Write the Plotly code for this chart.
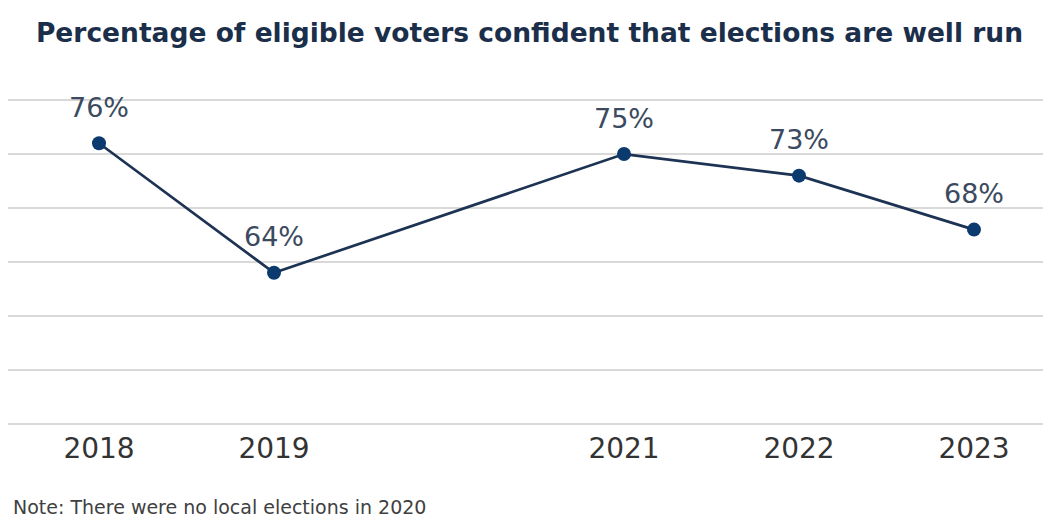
import plotly.graph_objects as go

years = [2018, 2019, 2021, 2022, 2023]
values = [76, 64, 75, 73, 68]
labels = ["76%", "64%", "75%", "73%", "68%"]
tick_vals = [2018, 2019, 2021, 2022, 2023]
tick_text = ["2018", "2019", "2021", "2022", "2023"]

title = "Percentage of eligible voters confident that elections are well run"
note = "Note: There were no local elections in 2020"

FONT = "DejaVu Sans, Arial"

fig = go.Figure()
fig.add_trace(go.Scatter(
    x=years, y=values, mode="lines+markers",
    line=dict(color="#1d3353", width=2.7),
    marker=dict(color="#0b3a6e", size=14),
    cliponaxis=False, hoverinfo="skip",
))

for x, y, t in zip(years, values, labels):
    fig.add_annotation(x=x, y=y, text=t, showarrow=False, yshift=36,
                       font=dict(family=FONT, size=27, color="#3b4a5e"))

fig.add_annotation(xref="paper", yref="paper", x=0.003, y=-0.25, xanchor="left", yanchor="middle",
                   text=note, showarrow=False,
                   font=dict(family=FONT, size=19, color="#404040"))

fig.update_layout(
    width=1043, height=511,
    margin=dict(l=0, r=0, t=91, b=94),
    paper_bgcolor="white", plot_bgcolor="white",
    showlegend=False,
    title=dict(text="<b>" + title + "</b>", x=0.5, xanchor="center", y=0.951, yanchor="middle",
               font=dict(family=FONT, size=26.5, color="#1b2f4b")),
    xaxis=dict(range=[2017.48, 2023.44], tickvals=tick_vals, ticktext=tick_text,
               showgrid=False, zeroline=False, showline=False, ticks="",
               ticklabelstandoff=4,
               tickfont=dict(family=FONT, size=28, color="#333333")),
    yaxis=dict(range=[49.9, 80.1], tickvals=[50, 55, 60, 65, 70, 75, 80], showgrid=True,
               gridcolor="#d9d9d9", gridwidth=1.5,
               showticklabels=False, zeroline=False, showline=False, ticks=""),
)

fig.write_html("out.html")
